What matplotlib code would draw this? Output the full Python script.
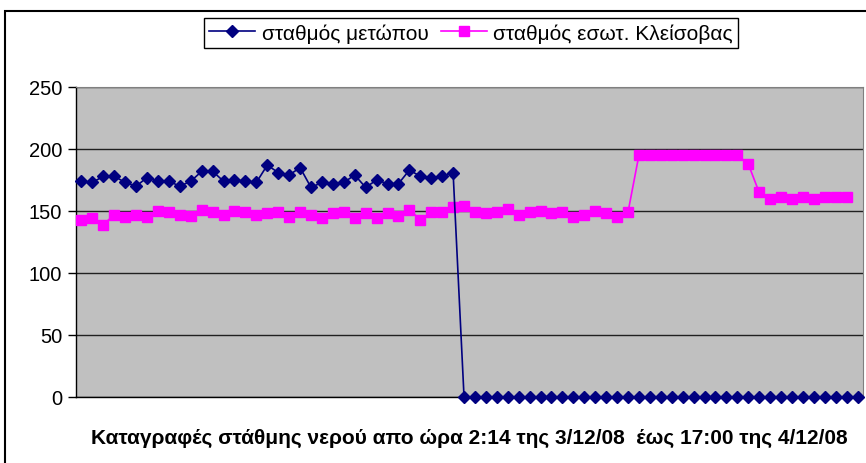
import matplotlib.pyplot as plt
import numpy as np
from matplotlib.patches import Rectangle

plt.rcParams['font.family'] = ['Liberation Sans', 'DejaVu Sans']

# water level readings (one every recording)
metopou = [174, 173, 178, 178, 173, 170, 177, 174, 174, 170, 174, 182, 182, 174, 175,
           174, 173, 187, 181, 179, 185, 169, 173, 172, 173, 179, 169, 175, 172, 172,
           183, 178, 177, 178, 181] + [0] * 37
kleisovas = [143, 144, 139, 147, 145, 147, 145, 150, 149, 147, 146, 151, 149, 147, 150,
             149, 147, 148, 149, 145, 149, 147, 144, 148, 149, 144, 148, 144, 148, 146,
             151, 143, 149, 149, 153, 154, 149, 148, 149, 152, 147, 149, 150, 148, 149,
             145, 147, 150, 148, 145, 149, 195, 195, 195, 195, 195, 195, 195, 195, 195,
             195, 188, 165, 160, 161, 160, 161, 160, 161, 161, 161]

label_1 = "σταθμός μετώπου"
label_2 = "σταθμός εσωτ. Κλείσοβας"
xlabel = "Καταγραφές στάθμης νερού απο ώρα 2:14 της 3/12/08  έως 17:00 της 4/12/08"
yticks = [0, 50, 100, 150, 200, 250]

W, H = 866, 464
fig = plt.figure(figsize=(W / 100, H / 100), dpi=100)
ax = fig.add_axes([76 / W, 1 - 398 / H, (863 - 76) / W, (398 - 88) / H])
ax.set_facecolor('#C0C0C0')

x1 = np.arange(len(metopou))
x2 = np.arange(len(kleisovas))
ax.plot(x1, metopou, color='#000080', lw=1.2, marker='D', ms=6.5,
        label=label_1, clip_on=False, zorder=4)
ax.plot(x2, kleisovas, color='#FF00FF', lw=1.2, marker='s', ms=7,
        label=label_2, clip_on=False, zorder=3)

ax.set_xlim(-0.5, len(metopou) - 0.5)
ax.set_ylim(0, 250)
ax.set_yticks(yticks)
ax.tick_params(axis='y', labelsize=14.5, length=6, width=1, pad=4, direction='out')
ax.set_xticks([])
ax.yaxis.grid(True, color='#202020', lw=1)
ax.set_axisbelow(True)
for s in ['top', 'right']:
    ax.spines[s].set_color('#808080')
for s in ['left', 'bottom']:
    ax.spines[s].set_color('black')
    ax.spines[s].set_linewidth(1)

ax.set_xlabel(xlabel, fontsize=15, fontweight='bold', labelpad=22)

fig.legend(loc='center', bbox_to_anchor=(471 / W, 1 - 34 / H), ncol=2,
           fontsize=15, frameon=True, fancybox=False, edgecolor='black',
           framealpha=1, handlelength=2.2, handletextpad=0.3,
           columnspacing=0.6, borderpad=0.25, borderaxespad=0)

# outer chart frame (cut by the picture edge)
fig.add_artist(Rectangle((5 / W, -0.1), 1.2, 1.1 - 12 / H, transform=fig.transFigure,
                         fill=False, edgecolor='black', lw=1.5))

fig.savefig('out.png', dpi=100)
